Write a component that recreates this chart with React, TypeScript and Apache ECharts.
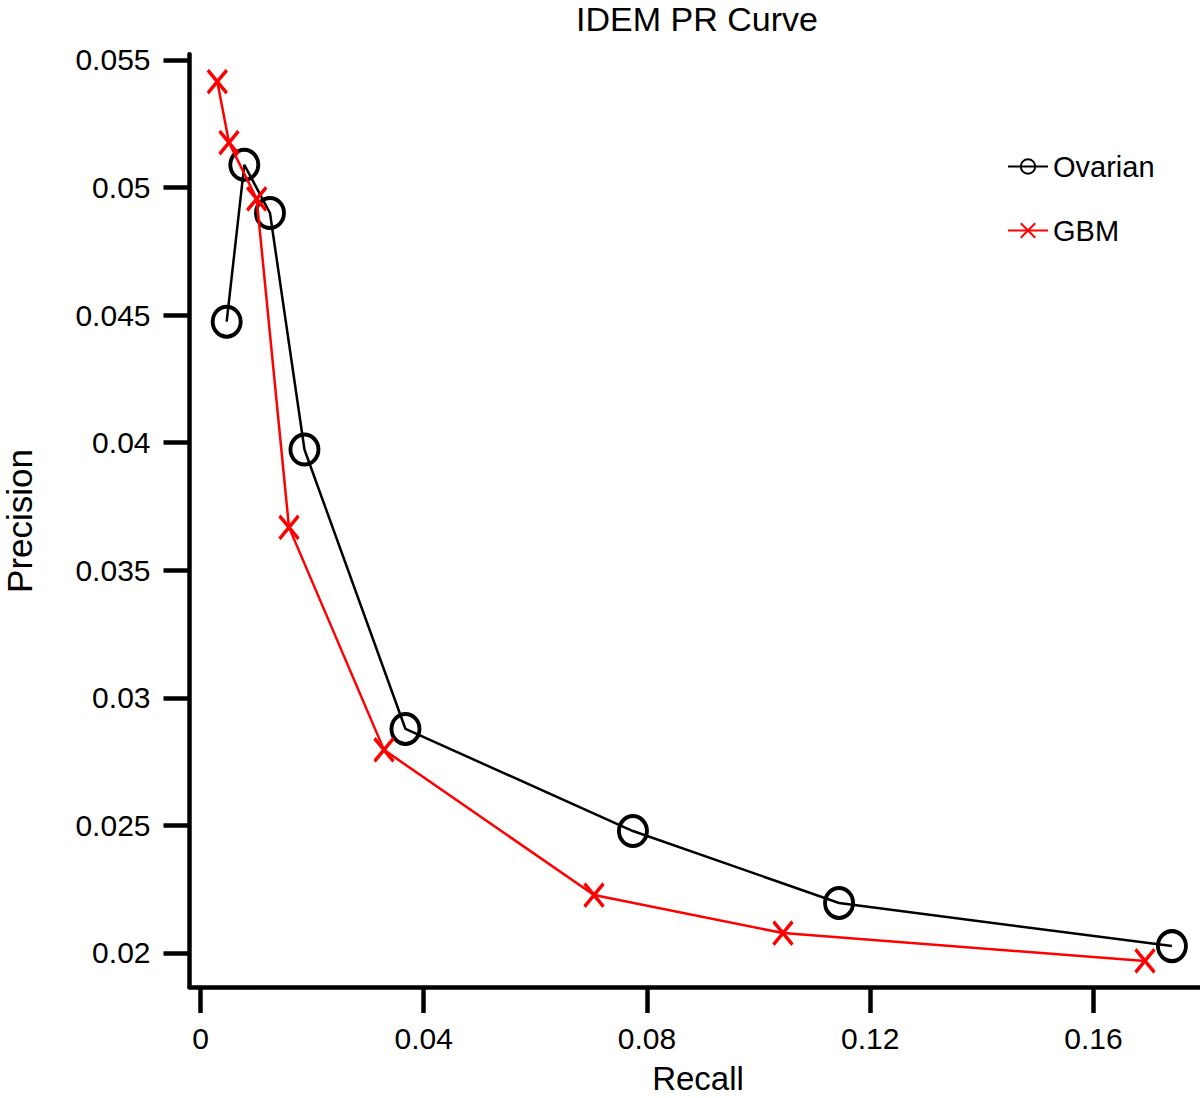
import React, { useEffect, useRef } from "react";
import * as echarts from "echarts";

const seriesNames = ["Ovarian", "GBM"];
const ovarianRecall = [0.00469, 0.00785, 0.01245, 0.01863, 0.03673, 0.07749, 0.11442, 0.17407];
const ovarianPrecision = [0.04474, 0.05089, 0.049, 0.03973, 0.02878, 0.02478, 0.02196, 0.02027];
const gbmRecall = [0.00301, 0.00511, 0.01007, 0.01586, 0.03288, 0.07051, 0.10437, 0.16924];
const gbmPrecision = [0.05415, 0.05176, 0.04955, 0.03668, 0.02796, 0.02227, 0.02078, 0.01969];
const xTickValues = [0, 0.04, 0.08, 0.12, 0.16];
const xTickLabels = ["0", "0.04", "0.08", "0.12", "0.16"];
const yTickValues = [0.02, 0.025, 0.03, 0.035, 0.04, 0.045, 0.05, 0.055];
const yTickLabels = ["0.02", "0.025", "0.03", "0.035", "0.04", "0.045", "0.05", "0.055"];
const titleText = "IDEM PR Curve";
const xName = "Recall";
const yName = "Precision";

const FONT = "'Liberation Sans', Arial, Helvetica, sans-serif";
const ELLIPSE = "path://M14,0A14,15,0,1,1,14,30A14,15,0,1,1,14,0Z";
const CROSS = "path://M0,0L20,24M20,0L0,24";

function labelFor(values: number[], labels: string[]) {
  return (v: number) => {
    for (let i = 0; i < values.length; i++) {
      if (Math.abs(values[i] - v) < 1e-9) return labels[i];
    }
    return "";
  };
}

export default function App() {
  const ref = useRef<HTMLDivElement>(null);
  useEffect(() => {
    if (!ref.current) return;
    const chart = echarts.init(ref.current, undefined, { renderer: "svg" });
    const ovData = ovarianRecall.map((x, i) => [x, ovarianPrecision[i]]);
    const gbData = gbmRecall.map((x, i) => [x, gbmPrecision[i]]);
    chart.setOption({
      animation: false,
      backgroundColor: "#fff",
      textStyle: { fontFamily: FONT },
      grid: { left: 189.5, top: 54.3, right: 0, bottom: 1098 - 987, containLabel: false },
      legend: {
        orient: "vertical",
        left: 1002,
        top: 147,
        itemWidth: 40,
        itemHeight: 18,
        itemGap: 35,
        data: seriesNames,
        textStyle: { fontSize: 29, color: "#000", fontFamily: FONT },
      },
      xAxis: {
        type: "value",
        min: -0.00197,
        max: 0.1791,
        splitLine: { show: false },
        axisLine: { onZero: false, lineStyle: { color: "#000", width: 4.5 } },
        axisTick: {
          show: true,
          length: 26,
          inside: false,
          customValues: xTickValues,
          lineStyle: { color: "#000", width: 4.5 },
        },
        axisLabel: {
          customValues: xTickValues,
          margin: 36,
          fontSize: 30,
          color: "#000",
          fontFamily: FONT,
          formatter: labelFor(xTickValues, xTickLabels),
        },
      },
      yAxis: {
        type: "value",
        min: 0.018667,
        max: 0.05522,
        splitLine: { show: false },
        axisLine: { onZero: false, lineStyle: { color: "#000", width: 4.5 } },
        axisTick: {
          show: true,
          length: 26,
          inside: false,
          customValues: yTickValues,
          lineStyle: { color: "#000", width: 4.5 },
        },
        axisLabel: {
          customValues: yTickValues,
          margin: 39,
          fontSize: 30,
          color: "#000",
          fontFamily: FONT,
          formatter: labelFor(yTickValues, yTickLabels),
        },
      },
      graphic: [
        {
          type: "text",
          x: 697,
          y: 19,
          style: { text: titleText, font: `34px ${FONT}`, fill: "#000", textAlign: "center", textVerticalAlign: "middle" },
        },
        {
          type: "text",
          x: 698,
          y: 1078,
          style: { text: xName, font: `33px ${FONT}`, fill: "#000", textAlign: "center", textVerticalAlign: "middle" },
        },
        {
          type: "text",
          x: 19,
          y: 521,
          rotation: Math.PI / 2,
          style: { text: yName, font: `35px ${FONT}`, fill: "#000", textAlign: "center", textVerticalAlign: "middle" },
        },
      ],
      series: [
        {
          name: seriesNames[0],
          type: "line",
          data: ovData,
          symbol: ELLIPSE,
          symbolSize: [28, 30],
          showAllSymbol: true,
          color: "#000",
          lineStyle: { color: "#000", width: 2.5 },
          itemStyle: { color: "rgba(0,0,0,0)", borderColor: "#000", borderWidth: 4 },
          z: 2,
        },
        {
          name: seriesNames[1],
          type: "line",
          data: gbData,
          symbol: CROSS,
          symbolSize: [19, 23],
          showAllSymbol: true,
          color: "#ff0000",
          lineStyle: { color: "#ff0000", width: 2.5 },
          itemStyle: { color: "rgba(0,0,0,0)", borderColor: "#ff0000", borderWidth: 3.5 },
          z: 3,
        },
      ],
    });
    return () => chart.dispose();
  }, []);
  return (
    <div
      ref={ref}
      style={{ position: "absolute", left: 0, top: 0, width: 1200, height: 1098 }}
    />
  );
}
